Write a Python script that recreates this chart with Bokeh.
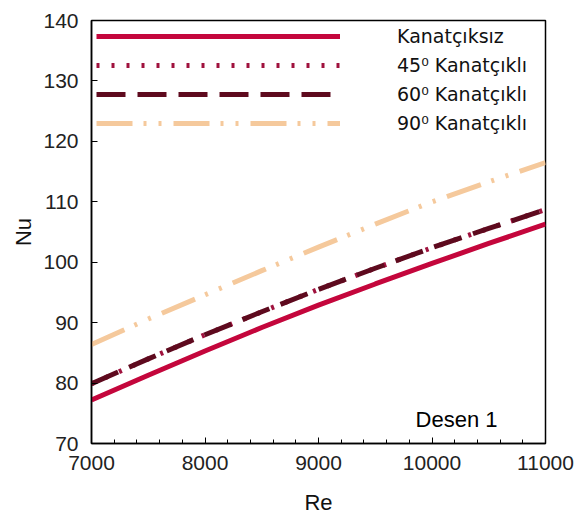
from bokeh.plotting import figure
from bokeh.models import Range1d, FixedTicker, Legend, LegendItem, Label
from bokeh.embed import file_html
from bokeh.resources import INLINE

# ---- data ----
re_values = [7000, 7500, 8000, 8500, 9000, 9500, 10000, 10500, 11000]
nu_kanatciksiz = [77.2, 81.3, 85.3, 89.2, 92.9, 96.4, 99.8, 103.1, 106.3]
nu_45 = [79.9, 84.0, 88.0, 91.8, 95.5, 99.0, 102.4, 105.6, 108.7]
nu_60 = [79.9, 84.0, 88.0, 91.8, 95.5, 99.0, 102.4, 105.6, 108.7]
nu_90 = [86.4, 90.6, 94.6, 98.6, 102.5, 106.3, 110.0, 113.3, 116.5]

series_labels = ["Kanatçıksız", "45⁰ Kanatçıklı", "60⁰ Kanatçıklı", "90⁰ Kanatçıklı"]
x_ticks = [7000, 8000, 9000, 10000, 11000]
x_minor = list(range(7000, 11001, 200))
y_ticks = [70, 80, 90, 100, 110, 120, 130, 140]

FONT = "Liberation Sans"

p = figure(width=576, height=519, output_backend="svg", toolbar_location=None,
           x_range=Range1d(7000, 11000), y_range=Range1d(70, 140),
           min_border_left=91, min_border_right=31, min_border_top=20, min_border_bottom=76)
p.background_fill_color = "white"
p.border_fill_color = "white"
p.outline_line_color = "black"
p.outline_line_width = 1.5
p.grid.visible = False

r0 = p.line(re_values, nu_kanatciksiz, line_color="#C4063C", line_width=5)
r1 = p.line(re_values, nu_45, line_color="#A0123E", line_width=5, line_dash="3 12")
r2 = p.line(re_values, nu_60, line_color="#5E0A1E", line_width=5, line_dash="29 12")
r3 = p.line(re_values, nu_90, line_color="#F5C99C", line_width=5, line_dash="36 11 3 12 3 12")

# axes
for ax in (p.xaxis[0], p.yaxis[0]):
    ax.axis_line_color = "black"
    ax.axis_line_width = 1.5
    ax.major_tick_in = 6
    ax.major_tick_out = 0
    ax.minor_tick_in = 4
    ax.minor_tick_out = 0
    ax.major_tick_line_color = "black"
    ax.minor_tick_line_color = "black"
    ax.major_label_text_font = FONT
    ax.major_label_text_font_size = "21px"
    ax.major_label_text_color = "#222222"
    ax.axis_label_text_font = FONT
    ax.axis_label_text_font_size = "22px"
    ax.axis_label_text_font_style = "normal"
    ax.axis_label_text_color = "#111111"

p.xaxis[0].ticker = FixedTicker(ticks=x_ticks, minor_ticks=x_minor)
p.yaxis[0].ticker = FixedTicker(ticks=y_ticks, minor_ticks=[])
p.xaxis[0].axis_label = "Re"
p.yaxis[0].axis_label = "Nu"
p.xaxis[0].major_label_standoff = 12
p.yaxis[0].major_label_standoff = 13
p.xaxis[0].axis_label_standoff = 17
p.yaxis[0].axis_label_standoff = 4

legend = Legend(items=[LegendItem(label=series_labels[0], renderers=[r0]),
                       LegendItem(label=series_labels[1], renderers=[r1]),
                       LegendItem(label=series_labels[2], renderers=[r2]),
                       LegendItem(label=series_labels[3], renderers=[r3])],
                location="top_left", margin=5, padding=0, spacing=7,
                glyph_width=244, glyph_height=20, label_height=20, label_standoff=57,
                label_text_font="DejaVu Sans", label_text_font_size="19px", label_text_color="#111111",
                border_line_color=None, background_fill_alpha=0)
p.add_layout(legend)

p.add_layout(Label(x=10216, y=74.0, text="Desen 1", text_align="center", text_baseline="middle",
                   text_font=FONT, text_font_size="22px", text_color="black"))

open("out.html", "w").write(file_html(p, INLINE))
